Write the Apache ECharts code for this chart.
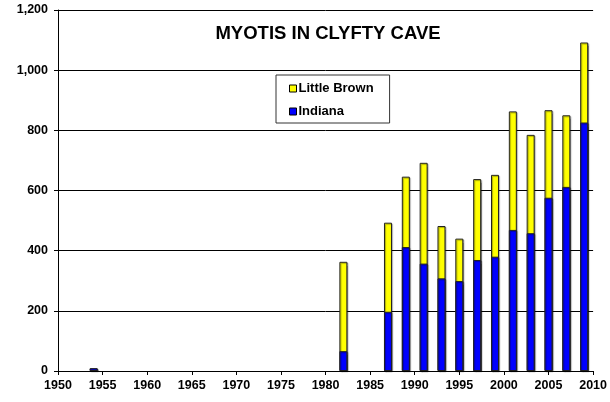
<!DOCTYPE html>
<html><head><meta charset="utf-8">
<script src="https://cdn.jsdelivr.net/npm/echarts@6/dist/echarts.min.js"></script>
<style>html,body{margin:0;padding:0;background:#fff}#c{width:610px;height:402px}</style>
</head><body><div id="c"></div>
<script>
const years = [1954, 1982, 1987, 1989, 1991, 1993, 1995, 1997, 1999, 2001, 2003, 2005, 2007, 2009];
const indiana = [9, 66, 197, 412, 357, 308, 299, 369, 380, 469, 458, 576, 612, 826];
const littleBrown = [0, 297, 296, 234, 335, 174, 141, 269, 272, 394, 327, 291, 238, 266];
const xTicks = [1950, 1955, 1960, 1965, 1970, 1975, 1980, 1985, 1990, 1995, 2000, 2005, 2010];
const yTicks = [0, 200, 400, 600, 800, 1000, 1200];

const font = 'Liberation Sans, Arial, sans-serif';
const chart = echarts.init(document.getElementById('c'), null, {renderer: 'canvas'});
const barStyle = (c) => ({color: c, borderColor: '#222', borderWidth: 1,
  shadowColor: 'rgba(0,0,0,0.35)', shadowOffsetX: 1, shadowOffsetY: 1, shadowBlur: 1});
chart.setOption({
  animation: false,
  textStyle: {fontFamily: font},
  title: {text: 'MYOTIS IN CLYFTY CAVE', left: 323, top: 19, textAlign: 'center', padding: 5,
    textStyle: {fontFamily: font, fontWeight: 'bold', fontSize: 18.5, color: '#000'}},
  legend: {
    orient: 'vertical', left: 276, top: 75, padding: [7, 16, 5, 13], itemGap: 10,
    borderColor: '#333', borderWidth: 1, backgroundColor: '#fff',
    itemWidth: 7, itemHeight: 7, icon: 'rect',
    data: [{name: 'Little Brown', itemStyle: {borderColor: '#000', borderWidth: 1}},
           {name: 'Indiana', itemStyle: {borderColor: '#000', borderWidth: 1}}],
    textStyle: {fontFamily: font, fontWeight: 'bold', fontSize: 13, color: '#000', padding: [0, 0, 0, -3]}
  },
  grid: {left: 58, right: 15, top: 10, bottom: 31},
  xAxis: {
    type: 'value', min: xTicks[0], max: xTicks[xTicks.length - 1], interval: 5,
    axisLine: {show: true, lineStyle: {color: '#000', width: 1}},
    axisTick: {show: true, length: 4, lineStyle: {color: '#000'}},
    axisLabel: {fontFamily: font, fontWeight: 'bold', fontSize: 12.5, color: '#000', margin: 8,
      formatter: v => String(v)},
    splitLine: {show: false}
  },
  yAxis: {
    type: 'value', min: yTicks[0], max: yTicks[yTicks.length - 1], interval: 200,
    axisLine: {show: true, lineStyle: {color: '#000', width: 1}},
    axisTick: {show: true, length: 4, lineStyle: {color: '#000'}},
    axisLabel: {fontFamily: font, fontWeight: 'bold', fontSize: 12.5, color: '#000', margin: 10,
      formatter: v => v.toLocaleString('en-US')},
    splitLine: {show: true, lineStyle: {color: '#000', width: 1}}
  },
  series: [
    {name: 'Little Brown', type: 'bar', barWidth: 8, barGap: '-100%', z: 2,
      itemStyle: barStyle('#FFFF00'),
      data: years.map((y, i) => [y, indiana[i] + littleBrown[i]])},
    {name: 'Indiana', type: 'bar', barWidth: 8, barGap: '-100%', z: 3,
      itemStyle: barStyle('#0000FF'),
      data: years.map((y, i) => [y, indiana[i]])}
  ]
});
</script></body></html>
